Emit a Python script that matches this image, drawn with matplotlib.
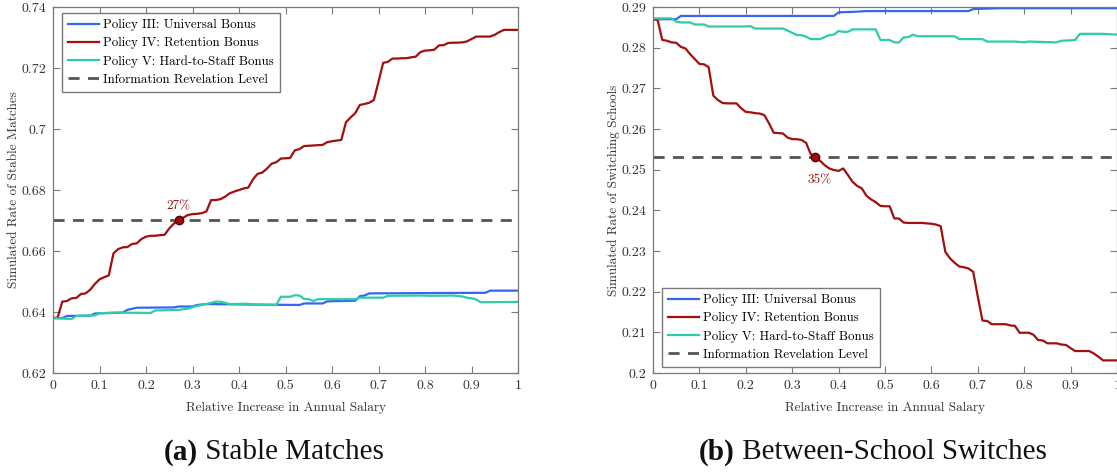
import matplotlib
matplotlib.use("Agg")
import matplotlib.pyplot as plt

plt.rcParams['font.family'] = ['cmr10', 'DejaVu Serif']
plt.rcParams['axes.formatter.use_mathtext'] = True

# ---------------- data ----------------
salary_grid = [i / 100 for i in range(101)]

# Panel (a) Stable matches
a_ret_y = [0.638, 0.6382, 0.6434, 0.6436, 0.6445, 0.6446, 0.6459, 0.6461, 0.6473, 0.6492,
           0.6507, 0.6514, 0.652, 0.6592, 0.6606, 0.6612, 0.6613, 0.6623, 0.6625, 0.6639,
           0.6647, 0.665, 0.665, 0.6652, 0.6653, 0.6674, 0.669, 0.670, 0.6709, 0.6718,
           0.6721, 0.6722, 0.6724, 0.673, 0.6767, 0.6767, 0.677, 0.6778, 0.6789, 0.6795,
           0.680, 0.6805, 0.6808, 0.6835, 0.6853, 0.6857, 0.687, 0.6886, 0.6891, 0.6903,
           0.6904, 0.6905, 0.693, 0.6934, 0.6944, 0.6945, 0.6946, 0.6947, 0.6948, 0.6957,
           0.696, 0.6962, 0.6964, 0.7022, 0.7038, 0.7052, 0.7079, 0.7082, 0.7086, 0.7095,
           0.7155, 0.7217, 0.722, 0.7231, 0.7231, 0.7232, 0.7232, 0.7235, 0.7237, 0.7252,
           0.7257, 0.7258, 0.726, 0.7274, 0.7275, 0.7282, 0.7283, 0.7283, 0.7284, 0.7287,
           0.7295, 0.7303, 0.7303, 0.7303, 0.7303, 0.7309, 0.7318, 0.7325, 0.7325, 0.7325,
           0.7325]
a_uni_x = [0, 0.02, 0.03, 0.08, 0.09, 0.15, 0.16, 0.18, 0.26, 0.27, 0.30, 0.31, 0.33,
           0.53, 0.54, 0.58, 0.59, 0.65, 0.66, 0.67, 0.68, 0.93, 0.94, 1.0]
a_uni_y = [0.638, 0.638, 0.6387, 0.6388, 0.6395, 0.6398, 0.6407, 0.6414, 0.6415, 0.6418,
           0.6418, 0.6423, 0.6426, 0.6423, 0.6428, 0.6428, 0.6435, 0.6437, 0.6452, 0.6454,
           0.6461, 0.6463, 0.647, 0.647]
a_hts_x = [0, 0.04, 0.05, 0.09, 0.10, 0.13, 0.21, 0.22, 0.27, 0.29, 0.31, 0.33, 0.35,
           0.36, 0.38, 0.42, 0.44, 0.48, 0.49, 0.51, 0.52, 0.53, 0.54, 0.55, 0.56, 0.57,
           0.65, 0.66, 0.71, 0.72, 0.79, 0.81, 0.86, 0.88, 0.89, 0.90, 0.91, 0.92, 1.0]
a_hts_y = [0.638, 0.6377, 0.6387, 0.6389, 0.6396, 0.6398, 0.6397, 0.6405, 0.6407, 0.6411,
           0.642, 0.6426, 0.6434, 0.6434, 0.6426, 0.6427, 0.6423, 0.6423, 0.645, 0.645,
           0.6455, 0.6454, 0.6443, 0.6442, 0.6436, 0.6442, 0.6442, 0.6447, 0.6447, 0.6453,
           0.6454, 0.6453, 0.6454, 0.6451, 0.6447, 0.6445, 0.6441, 0.6432, 0.6433]
a_info_level = 0.67
a_cross = (0.27, 0.67)
a_cross_label = "27%"

# Panel (b) Between-school switches
b_ret_y = [0.287, 0.2868, 0.2819, 0.2817, 0.2813, 0.2812, 0.2802, 0.2798, 0.2784, 0.2772,
           0.276, 0.2759, 0.2752, 0.2682, 0.2671, 0.2664, 0.2663, 0.2663, 0.2663, 0.2651,
           0.2642, 0.2641, 0.2639, 0.2638, 0.2634, 0.2614, 0.2591, 0.259, 0.2589, 0.2579,
           0.2575, 0.2575, 0.2573, 0.2566, 0.2538, 0.253, 0.2522, 0.2511, 0.2503, 0.2499,
           0.2497, 0.2503, 0.2487, 0.247, 0.246, 0.2454, 0.2436, 0.2427, 0.2420, 0.2411,
           0.241, 0.241, 0.238, 0.238, 0.237, 0.2369, 0.2369, 0.2369, 0.2369, 0.2368,
           0.2367, 0.2365, 0.2361, 0.2298, 0.2282, 0.2271, 0.2262, 0.226, 0.2257, 0.2249,
           0.2188, 0.2129, 0.2128, 0.212, 0.212, 0.212, 0.212, 0.2117, 0.2116, 0.2099,
           0.2099, 0.2099, 0.2094, 0.2081, 0.208, 0.2073, 0.2073, 0.2073, 0.207, 0.2069,
           0.2061, 0.2054, 0.2054, 0.2054, 0.2054, 0.2048, 0.204, 0.2031, 0.2031, 0.2031,
           0.2031]
b_uni_x = [0, 0.05, 0.06, 0.39, 0.40, 0.43, 0.46, 0.68, 0.69, 0.75, 1.0]
b_uni_y = [0.287, 0.287, 0.2878, 0.2878, 0.2887, 0.2888, 0.289, 0.289, 0.2895, 0.2897, 0.2897]
b_hts_x = [0, 0.04, 0.05, 0.06, 0.08, 0.09, 0.11, 0.12, 0.20, 0.21, 0.22, 0.28, 0.29,
           0.31, 0.32, 0.33, 0.34, 0.36, 0.37, 0.38, 0.39, 0.40, 0.41, 0.42, 0.43, 0.48,
           0.49, 0.51, 0.52, 0.53, 0.54, 0.55, 0.56, 0.57, 0.65, 0.66, 0.71, 0.72, 0.78,
           0.80, 0.81, 0.87, 0.88, 0.90, 0.91, 0.92, 0.97, 1.0]
b_hts_y = [0.2872, 0.2872, 0.2864, 0.2862, 0.2862, 0.2857, 0.2857, 0.2852, 0.2852, 0.2853,
           0.2847, 0.2847, 0.2842, 0.2831, 0.2831, 0.2827, 0.2821, 0.2821, 0.2826, 0.2831,
           0.2832, 0.2841, 0.2839, 0.2839, 0.2845, 0.2845, 0.2819, 0.2819, 0.2813, 0.2813,
           0.2825, 0.2826, 0.2832, 0.2828, 0.2828, 0.2821, 0.2821, 0.2815, 0.2815, 0.2813,
           0.2815, 0.2813, 0.2817, 0.2818, 0.2819, 0.2834, 0.2834, 0.2832]
b_info_level = 0.253
b_cross = (0.35, 0.253)
b_cross_label = "35%"

series_labels = ["Policy III: Universal Bonus", "Policy IV: Retention Bonus",
                 "Policy V: Hard-to-Staff Bonus", "Information Revelation Level"]
x_label = "Relative Increase in Annual Salary"
a_ylabel = "Simulated Rate of Stable Matches"
b_ylabel = "Simulated Rate of Switching Schools"
x_ticks = [0, 0.1, 0.2, 0.3, 0.4, 0.5, 0.6, 0.7, 0.8, 0.9, 1]
x_ticklabels = ["0", "0.1", "0.2", "0.3", "0.4", "0.5", "0.6", "0.7", "0.8", "0.9", "1"]
a_yticks = [0.62, 0.64, 0.66, 0.68, 0.70, 0.72, 0.74]
a_yticklabels = ["0.62", "0.64", "0.66", "0.68", "0.7", "0.72", "0.74"]
b_yticks = [0.20, 0.21, 0.22, 0.23, 0.24, 0.25, 0.26, 0.27, 0.28, 0.29]
b_yticklabels = ["0.2", "0.21", "0.22", "0.23", "0.24", "0.25", "0.26", "0.27", "0.28", "0.29"]
captions = [("(a)", "Stable Matches"), ("(b)", "Between-School Switches")]

C_BLUE = "#3466f2"
C_RED = "#a10f0f"
C_TEAL = "#2ccda8"
C_DASH = "#555555"
C_AX = "#7a7a7a"
C_TXT = "#333333"

fig = plt.figure(figsize=(11.17, 4.72), dpi=100)
ax1 = fig.add_axes([53 / 1117, 1 - 373 / 472, 465 / 1117, 366 / 472])
ax2 = fig.add_axes([653 / 1117, 1 - 373 / 472, 464 / 1117, 366 / 472])


def style(ax, yticks, yticklabels, ylim, ylabel):
    ax.set_xlim(0, 1)
    ax.set_ylim(*ylim)
    ax.set_xticks(x_ticks)
    ax.set_xticklabels(x_ticklabels)
    ax.set_yticks(yticks)
    ax.set_yticklabels(yticklabels)
    ax.tick_params(direction="in", top=True, right=True, length=5, width=0.8,
                   colors=C_AX, labelcolor=C_TXT, labelsize=10, pad=5)
    for s in ax.spines.values():
        s.set_color(C_AX)
        s.set_linewidth(0.9)
    ax.set_xlabel(x_label, fontsize=9.5, color=C_TXT, labelpad=7)
    ax.set_ylabel(ylabel, fontsize=9.5, color=C_TXT, labelpad=1)


def legend(ax, **kw):
    ax.legend(fontsize=9.3, frameon=True, fancybox=False, edgecolor=C_AX, framealpha=1,
              handlelength=2.35, handletextpad=0.3, borderpad=0.5, labelspacing=0.45,
              borderaxespad=0, **kw)


lw = 1.6
# Panel (a)
ax1.plot(a_uni_x, a_uni_y, color=C_BLUE, lw=lw, label=series_labels[0])
ax1.plot(salary_grid, a_ret_y, color=C_RED, lw=lw, label=series_labels[1])
ax1.plot(a_hts_x, a_hts_y, color=C_TEAL, lw=lw, label=series_labels[2])
ax1.axhline(a_info_level, color=C_DASH, lw=2, ls=(0, (4, 3)), label=series_labels[3])
ax1.plot([a_cross[0]], [a_cross[1]], "o", color=C_RED, mec="#5a0000", ms=6, zorder=5)
ax1.text(a_cross[0], a_cross[1] + 0.0027, a_cross_label, color=C_RED, fontsize=9.5,
         ha="center", va="bottom")
style(ax1, a_yticks, a_yticklabels, (0.62, 0.74), a_ylabel)
legend(ax1, loc="upper left", bbox_to_anchor=(0.019, 0.984))

# Panel (b)
ax2.plot(b_uni_x, b_uni_y, color=C_BLUE, lw=lw, label=series_labels[0])
ax2.plot(salary_grid, b_ret_y, color=C_RED, lw=lw, label=series_labels[1])
ax2.plot(b_hts_x, b_hts_y, color=C_TEAL, lw=lw, label=series_labels[2])
ax2.axhline(b_info_level, color=C_DASH, lw=2, ls=(0, (4, 3)), label=series_labels[3])
ax2.plot([b_cross[0]], [b_cross[1]], "o", color=C_RED, mec="#5a0000", ms=6, zorder=5)
ax2.text(b_cross[0] + 0.008, b_cross[1] - 0.0040, b_cross_label, color=C_RED, fontsize=9.5,
         ha="center", va="top")
style(ax2, b_yticks, b_yticklabels, (0.20, 0.29), b_ylabel)
legend(ax2, loc="lower left", bbox_to_anchor=(0.019, 0.016))

# Captions: bold tag followed by regular name, centred under each panel
cap_font = ["Liberation Serif", "DejaVu Serif"]
fig.canvas.draw()
renderer = fig.canvas.get_renderer()
for cx, (tag, name) in zip([274, 873], captions):
    t1 = fig.text(0, 1 - 452 / 472, tag, fontsize=21, family=cap_font, weight="bold",
                  ha="left", va="center", color="#111111")
    t2 = fig.text(0, 1 - 452 / 472, " " + name, fontsize=21, family=cap_font,
                  ha="left", va="center", color="#111111")
    w1 = t1.get_window_extent(renderer).width
    w2 = t2.get_window_extent(renderer).width
    start = cx - (w1 + w2) / 2
    t1.set_x(start / 1117)
    t2.set_x((start + w1) / 1117)

fig.savefig("out.png", dpi=100)
